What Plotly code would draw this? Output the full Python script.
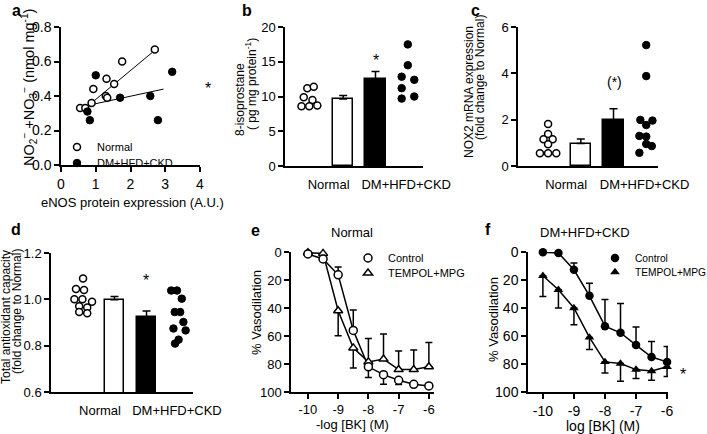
import plotly.graph_objects as go

W, H = 707, 434
FONT = "Liberation Sans, Arial, Helvetica, sans-serif"

# ---------------- data ----------------
# panel a : NOx vs eNOS
a_normal_x = [0.55, 0.70, 0.88, 0.93, 1.31, 1.29, 1.33, 1.53, 1.76, 2.70]
a_normal_y = [0.33, 0.33, 0.36, 0.44, 0.50, 0.40, 0.39, 0.47, 0.60, 0.67]
a_dm_x = [0.76, 0.83, 1.00, 1.70, 2.57, 2.79, 3.20]
a_dm_y = [0.31, 0.26, 0.52, 0.39, 0.40, 0.26, 0.54]
a_normal_fit_x = [0.82, 2.70]
a_normal_fit_y = [0.35, 0.665]
a_dm_fit_x = [0.76, 2.95]
a_dm_fit_y = [0.345, 0.44]

groups = ["Normal", "DM+HFD+CKD"]

# panel b : 8-isoprostane
b_normal_pts = [11.2, 11.4, 9.9, 9.5, 8.6, 8.6, 8.7]
b_normal_dx = [-0.11, 0.09, -0.22, 0.05, -0.29, -0.05, 0.20]
b_dm_pts = [17.5, 14.5, 12.85, 12.4, 11.2, 9.7, 10.0]
b_dm_dx = [0.0, 0.0, -0.19, 0.20, -0.19, -0.19, 0.20]
b_means = [9.65, 12.5]
b_sem = [0.5, 1.1]

# panel c : NOX2 mRNA
c_normal_pts = [1.81, 1.38, 1.15, 1.15, 0.94, 0.55, 0.55, 0.55]
c_normal_dx = [0.0, 0.0, -0.14, 0.14, 0.0, -0.25, 0.0, 0.25]
c_dm_pts = [5.22, 3.88, 1.99, 1.96, 1.77, 1.30, 1.27, 0.95, 0.86, 0.57]
c_dm_dx = [0.0, 0.0, -0.18, 0.19, 0.0, -0.21, 0.0, 0.0, 0.17, -0.21]
c_means = [0.97, 1.97]
c_sem = [0.2, 0.5]

# panel d : total antioxidant capacity
d_normal_pts = [1.09, 1.045, 1.04, 1.0, 1.0, 0.99, 0.97, 0.965, 0.945, 0.94]
d_normal_dx = [0.02, -0.2, 0.05, -0.25, 0.0, 0.3, -0.1, 0.15, -0.1, 0.15]
d_dm_pts = [1.038, 1.038, 1.003, 0.945, 0.945, 0.902, 0.874, 0.866, 0.826, 0.809]
d_dm_dx = [-0.23, -0.05, 0.1, -0.12, 0.05, 0.15, -0.16, 0.22, 0.0, -0.11]
d_means = [0.998, 0.924]
d_sem = [0.014, 0.026]

# panels e,f : BK concentration response
log_bk = [-10, -9.5, -9, -8.5, -8, -7.5, -7, -6.5, -6]
bk_ticks = [-10, -9, -8, -7, -6]
bk_ticktext = ["-10", "-9", "-8", "-7", "-6"]

e_ctrl = [1.4, 5, 16.3, 56, 82, 87.6, 91.6, 94.5, 95.7]
e_ctrl_up = [0, 0, 5.5, 14.6, 0, 0, 0, 0, 0]
e_ctrl_down = [0, 0, 0, 0, 7.7, 6.9, 3, 0, 0]
e_temp = [0.5, 1, 42, 68.5, 78.5, 76.5, 84, 84, 82]
e_temp_up = [0, 0, 0, 0, 16.8, 17.9, 13.2, 14, 17.4]
e_temp_down = [0, 0, 17.8, 14.3, 0, 0, 0, 0, 0]

f_ctrl = [0.2, 0.7, 12.7, 31.3, 53, 57.7, 66.5, 75, 78.5]
f_ctrl_up = [0, 0, 4.8, 9, 19, 21, 13, 11, 11]
f_temp = [17, 27, 40, 61, 78.5, 79.7, 84, 85, 82]
f_temp_down = [14.8, 13, 12, 8.6, 8, 12.6, 6.4, 6.6, 7]

# ---------------- helpers ----------------
def dx(x0, x1):
    return [x0 / W, x1 / W]

def dy(ytop, ybot):
    return [1 - ybot / H, 1 - ytop / H]

def px(x):
    return x / W

def py(y):
    return 1 - y / H

axis_common = dict(showline=True, linecolor="black", linewidth=1.5, ticks="outside",
                   ticklen=5, tickwidth=1.5, tickcolor="black", showgrid=False,
                   zeroline=False, automargin=False, mirror=False,
                   tickfont=dict(size=13, color="black", family=FONT))

fig = go.Figure()

OPEN = dict(color="white", size=7, line=dict(color="black", width=1.5))
FILL = dict(color="black", size=7.5, line=dict(color="black", width=1))

# ---- a ----
fig.add_trace(go.Scatter(x=a_normal_fit_x, y=a_normal_fit_y, mode="lines",
                         line=dict(color="black", width=1), showlegend=False,
                         xaxis="x", yaxis="y"))
fig.add_trace(go.Scatter(x=a_dm_fit_x, y=a_dm_fit_y, mode="lines",
                         line=dict(color="black", width=1), showlegend=False,
                         xaxis="x", yaxis="y"))
fig.add_trace(go.Scatter(x=a_normal_x, y=a_normal_y, mode="markers", name="Normal",
                         marker=dict(symbol="circle", **OPEN), xaxis="x", yaxis="y",
                         legend="legend", cliponaxis=False))
fig.add_trace(go.Scatter(x=a_dm_x, y=a_dm_y, mode="markers", name="DM+HFD+CKD",
                         marker=dict(symbol="circle", **FILL), xaxis="x", yaxis="y",
                         legend="legend4", cliponaxis=False))

# ---- b, c, d bar panels ----
def bar_panel(xa, ya, npts, ndx, dpts, ddx, means, sems):
    fig.add_trace(go.Bar(x=[1, 2], y=means, width=0.62,
                         marker=dict(color=["white", "black"], line=dict(color="black", width=1.5)),
                         error_y=dict(type="data", symmetric=False, array=sems, arrayminus=[0, 0],
                                      color="black", thickness=1.5, width=4),
                         showlegend=False, xaxis=xa, yaxis=ya))
    fig.add_trace(go.Scatter(x=[0 + d for d in ndx], y=npts, mode="markers",
                             marker=dict(symbol="circle", color="white", size=7,
                                         line=dict(color="black", width=1.5)),
                             showlegend=False, xaxis=xa, yaxis=ya, cliponaxis=False))
    fig.add_trace(go.Scatter(x=[3 + d for d in ddx], y=dpts, mode="markers",
                             marker=dict(symbol="circle", color="black", size=7.5,
                                         line=dict(color="black", width=1)),
                             showlegend=False, xaxis=xa, yaxis=ya, cliponaxis=False))

bar_panel("x2", "y2", b_normal_pts, b_normal_dx, b_dm_pts, b_dm_dx, b_means, b_sem)
bar_panel("x3", "y3", c_normal_pts, c_normal_dx, c_dm_pts, c_dm_dx, c_means, c_sem)
bar_panel("x4", "y4", d_normal_pts, d_normal_dx, d_dm_pts, d_dm_dx, d_means, d_sem)

# ---- e ----
for yv in (e_ctrl, e_temp):
    fig.add_trace(go.Scatter(x=log_bk, y=yv, mode="lines", line=dict(color="black", width=1.5),
                             showlegend=False, xaxis="x5", yaxis="y5"))
fig.add_trace(go.Scatter(x=log_bk, y=e_temp, mode="markers", name="TEMPOL+MPG",
                         marker=dict(symbol="triangle-up", color="white", size=8,
                                     line=dict(color="black", width=1.5)),
                         error_y=dict(type="data", symmetric=False, array=e_temp_down,
                                      arrayminus=e_temp_up, color="black", thickness=1.5, width=3.5),
                         xaxis="x5", yaxis="y5", legend="legend5", cliponaxis=False))
fig.add_trace(go.Scatter(x=log_bk, y=e_ctrl, mode="markers", name="Control",
                         marker=dict(symbol="circle", color="white", size=8,
                                     line=dict(color="black", width=1.5)),
                         error_y=dict(type="data", symmetric=False, array=e_ctrl_down,
                                      arrayminus=e_ctrl_up, color="black", thickness=1.5, width=3.5),
                         xaxis="x5", yaxis="y5", legend="legend2", cliponaxis=False))

# ---- f ----
for yv in (f_ctrl, f_temp):
    fig.add_trace(go.Scatter(x=log_bk, y=yv, mode="lines", line=dict(color="black", width=1.5),
                             showlegend=False, xaxis="x6", yaxis="y6"))
fig.add_trace(go.Scatter(x=log_bk, y=f_ctrl, mode="markers", name="Control",
                         marker=dict(symbol="circle", color="black", size=8.5),
                         error_y=dict(type="data", symmetric=False, array=[0] * len(f_ctrl),
                                      arrayminus=f_ctrl_up, color="black", thickness=1.5, width=3.5),
                         xaxis="x6", yaxis="y6", legend="legend3", cliponaxis=False))
fig.add_trace(go.Scatter(x=log_bk, y=f_temp, mode="markers", name="TEMPOL+MPG",
                         marker=dict(symbol="triangle-up", color="black", size=8.5),
                         error_y=dict(type="data", symmetric=False, array=f_temp_down,
                                      arrayminus=[0] * len(f_temp), color="black", thickness=1.5, width=3.5),
                         xaxis="x6", yaxis="y6", legend="legend6", cliponaxis=False))

# ---------------- axes ----------------
cat_axis = dict(axis_common, ticks="", tickvals=[0.55, 2.95], ticktext=groups,
                ticklabelstandoff=6)

def leg(x, y, size=11):
    return dict(x=px(x), y=py(y), xref="container", yref="container",
                xanchor="left", yanchor="middle", bgcolor="rgba(0,0,0,0)",
                borderwidth=0, font=dict(size=size, family=FONT, color="black"))

layout = dict(
    template="none",
    width=W, height=H, margin=dict(l=0, r=0, t=0, b=0, pad=0, autoexpand=False), autosize=False,
    paper_bgcolor="white", plot_bgcolor="white",
    font=dict(family=FONT, color="black", size=13),
    bargap=0,
    xaxis=dict(axis_common, domain=dx(61, 200), range=[0, 4], tickvals=[0, 1, 2, 3, 4],
               anchor="y", tickfont=dict(size=14, family=FONT, color="black")),
    yaxis=dict(axis_common, domain=dy(27, 165), range=[0, 0.8], tickvals=[0, 0.2, 0.4, 0.6, 0.8],
               tickformat=".1f", anchor="x", tickfont=dict(size=14, family=FONT, color="black")),
    xaxis2=dict(cat_axis, domain=dx(285, 423), range=[-0.8, 3.47], anchor="y2"),
    yaxis2=dict(axis_common, domain=dy(27, 166), range=[0, 20], tickvals=[0, 5, 10, 15, 20], anchor="x2"),
    xaxis3=dict(cat_axis, domain=dx(518, 658), range=[-0.92, 3.36], anchor="y3"),
    yaxis3=dict(axis_common, domain=dy(27, 166), range=[0, 6], tickvals=[0, 2, 4, 6], anchor="x3"),
    xaxis4=dict(cat_axis, domain=dx(51, 193), range=[-0.98, 3.45], anchor="y4"),
    yaxis4=dict(axis_common, domain=dy(253, 392), range=[0.6, 1.2], tickvals=[0.6, 0.8, 1.0, 1.2],
                tickformat=".1f", anchor="x4"),
    xaxis5=dict(axis_common, domain=dx(291, 434), range=[-10.56, -5.83], tickvals=bk_ticks,
                ticktext=bk_ticktext, anchor="y5"),
    yaxis5=dict(axis_common, domain=dy(252, 392), range=[100, 0], tickvals=[0, 20, 40, 60, 80, 100],
                anchor="x5"),
    xaxis6=dict(axis_common, domain=dx(528, 668), range=[-10.48, -5.97], tickvals=bk_ticks,
                ticktext=bk_ticktext, anchor="y6", tickfont=dict(size=14, family=FONT, color="black")),
    yaxis6=dict(axis_common, domain=dy(252, 392), range=[100, 0], tickvals=[0, 20, 40, 60, 80, 100],
                anchor="x6", tickfont=dict(size=14, family=FONT, color="black")),
    legend=leg(57, 147),
    legend4=leg(57, 163),
    legend2=leg(348, 258),
    legend5=leg(348, 273),
    legend3=leg(595, 258, 10.2),
    legend6=leg(595, 272, 10.2),
)
fig.update_layout(**layout)

# ---------------- annotations ----------------
ann = []

def text(x, y, s, size=13, angle=0, bold=False, xanchor="center", yanchor="middle"):
    ann.append(dict(x=px(x), y=py(y), xref="paper", yref="paper", text=("<b>%s</b>" % s) if bold else s,
                    showarrow=False, textangle=angle, xanchor=xanchor, yanchor=yanchor,
                    font=dict(size=size, family=FONT, color="black")))

# panel letters
for lx, ly, s in [(16, 11, "a"), (247, 10, "b"), (475, 10, "c"), (16, 229, "d"), (255, 230, "e"), (488, 229, "f")]:
    text(lx, ly, s, size=16, bold=True)

# y titles
text(29, 88, "NO<sub>2</sub><sup>−</sup> +NO<sub>3</sub><sup>−</sup> (nmol mg<sup>-1</sup>)", size=14.5, angle=-90)
text(240, 100, "8-isoprostane", size=12, angle=-90)
text(251, 84, "( pg mg protein<sup>-1</sup>)", size=12, angle=-90)
text(469, 92, "NOX2 mRNA expression", size=12, angle=-90)
text(480, 78, "(fold change to Normal)", size=12, angle=-90)
text(6, 317, "Total antioxidant capacity", size=12, angle=-90)
text(17, 312, "(fold change to Normal)", size=12, angle=-90)
text(256, 313, "% Vasodilation", size=13, angle=-90)
text(493, 320, "% Vasodilation", size=13, angle=-90)

# x titles and panel titles
text(132, 202, "eNOS protein expression (A.U.)", size=13)
text(352, 424, "-log [BK] (M)", size=13)
text(603, 426, "log [BK] (M)", size=14)
text(352, 233, "Normal", size=13)
text(585, 233, "DM+HFD+CKD", size=13)

# significance marks
text(208, 88, "*", size=16)
text(376, 60, "*", size=16)
text(614, 82, "(*)", size=14)
text(146, 280, "*", size=16)
text(683, 374, "*", size=16)

fig.update_layout(annotations=ann)
fig.write_html("out.html", config={"displayModeBar": False},
               post_script="document.body.style.margin='0';document.body.style.padding='0';"
                           "document.body.style.overflow='hidden';")
